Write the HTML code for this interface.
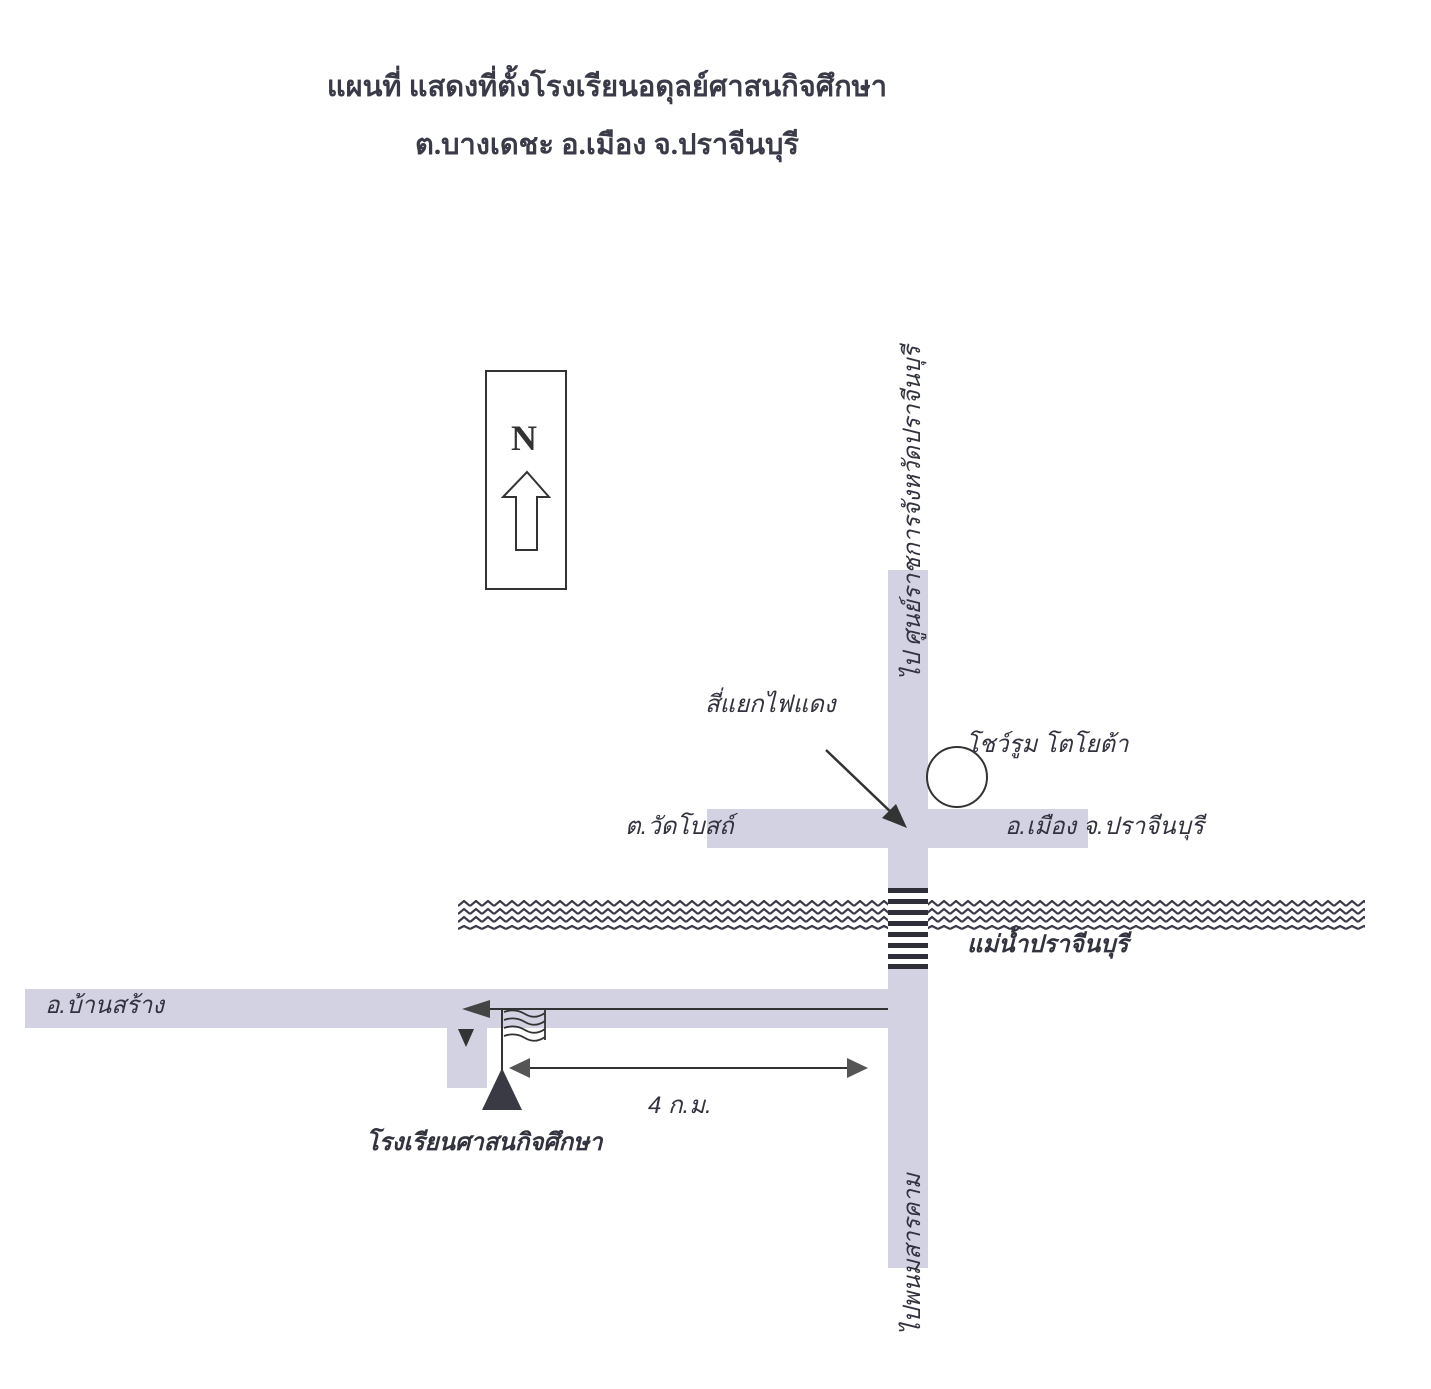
<!DOCTYPE html>
<html><head><meta charset="utf-8"><style>
html,body{margin:0;padding:0;background:#fff;}
svg{display:block;}
.t{font-family:"Liberation Serif","DejaVu Serif",serif;font-weight:bold;font-size:29px;fill:#3a3a48;}
.l{font-family:"Liberation Sans","DejaVu Sans",sans-serif;font-style:italic;font-size:24px;fill:#33333f;}
</style></head><body>
<svg width="1431" height="1389" viewBox="0 0 1431 1389" xmlns="http://www.w3.org/2000/svg">
<defs>
<pattern id="zz" x="458" y="900" width="12" height="32" patternUnits="userSpaceOnUse">
<path d="M0 6 L6 1 L12 6 M0 14 L6 9 L12 14 M0 22 L6 17 L12 22 M0 29 L6 26 L12 29" stroke="#3a3a48" stroke-width="2.2" fill="none"/>
</pattern>
</defs>
<rect width="1431" height="1389" fill="#fff"/>
<text class="t" x="607" y="96" text-anchor="middle">แผนที่ แสดงที่ตั้งโรงเรียนอดุลย์ศาสนกิจศึกษา</text>
<text class="t" x="607" y="154" text-anchor="middle">ต.บางเดชะ  อ.เมือง  จ.ปราจีนบุรี</text>
<!-- north box -->
<rect x="486" y="371" width="80" height="218" fill="none" stroke="#333" stroke-width="2"/>
<text x="524" y="450" text-anchor="middle" style="font-family:'Liberation Serif',serif;font-weight:bold;font-size:36px;fill:#333">N</text>
<path d="M516 550 L516 497 L503 497 L527 472 L549 497 L537 497 L537 550 Z" fill="none" stroke="#333" stroke-width="2"/>
<!-- roads -->
<g fill="#d3d2e2">
<rect x="888" y="570" width="40" height="698"/>
<rect x="707" y="809" width="381" height="39"/>
<rect x="25" y="989" width="863" height="39"/>
<rect x="447" y="1028" width="40" height="60"/>
</g>
<!-- river -->
<rect x="458" y="900" width="907" height="32" fill="url(#zz)"/>
<rect x="888" y="888" width="40" height="80" fill="#fff"/>
<g fill="#2f2f3a">
<rect x="888" y="888" width="40" height="5"/><rect x="888" y="899" width="40" height="5"/>
<rect x="888" y="910" width="40" height="5"/><rect x="888" y="921" width="40" height="5"/>
<rect x="888" y="932" width="40" height="5"/><rect x="888" y="943" width="40" height="5"/>
<rect x="888" y="954" width="40" height="5"/><rect x="888" y="964" width="40" height="5"/>
</g>
<!-- circle -->
<circle cx="957" cy="777" r="30" fill="#fff" stroke="#333" stroke-width="2"/>
<!-- arrow to intersection -->
<line x1="826" y1="750" x2="895" y2="816" stroke="#333" stroke-width="2.5"/>
<polygon points="907,828 882,818 896,804" fill="#333"/>
<!-- long arrow -->
<line x1="888" y1="1009" x2="480" y2="1009" stroke="#333" stroke-width="2"/>
<polygon points="462,1009 490,1000 490,1018" fill="#444"/>
<!-- down triangle -->
<polygon points="458,1029 474,1029 466,1047" fill="#333"/>
<!-- flag -->
<line x1="502" y1="1009" x2="502" y2="1075" stroke="#333" stroke-width="2"/>
<path d="M504 1012 Q515 1008 525 1014 T545 1013 M504 1020 Q515 1016 525 1022 T545 1021 M504 1028 Q515 1024 525 1030 T545 1029 M504 1036 Q515 1032 525 1038 T545 1037 M545 1010 L545 1040" stroke="#333" stroke-width="1.8" fill="none"/>
<polygon points="502,1068 522,1110 482,1110" fill="#3a3a44"/>
<!-- distance arrow -->
<line x1="525" y1="1068" x2="855" y2="1068" stroke="#333" stroke-width="2"/>
<polygon points="509,1068 530,1058 530,1078" fill="#555"/>
<polygon points="868,1068 847,1058 847,1078" fill="#555"/>
<!-- labels -->
<text class="l" x="705" y="712">สี่แยกไฟแดง</text>
<text class="l" x="966" y="752">โชว์รูม  โตโยต้า</text>
<text class="l" x="625" y="834">ต.วัดโบสถ์</text>
<text class="l" x="1005" y="834">อ.เมือง  จ.ปราจีนบุรี</text>
<text class="l" x="967" y="952" style="font-weight:bold">แม่น้ำปราจีนบุรี</text>
<text class="l" x="45" y="1013">อ.บ้านสร้าง</text>
<text class="l" x="648" y="1113">4 ก.ม.</text>
<text class="l" x="366" y="1150" style="font-weight:bold">โรงเรียนศาสนกิจศึกษา</text>
<text class="l" transform="translate(920,680) rotate(-90)">ไป ศูนย์ราชการจังหวัดปราจีนบุรี</text>
<text class="l" transform="translate(920,1335) rotate(-90)">ไปพนมสารคาม</text>
</svg>
</body></html>
